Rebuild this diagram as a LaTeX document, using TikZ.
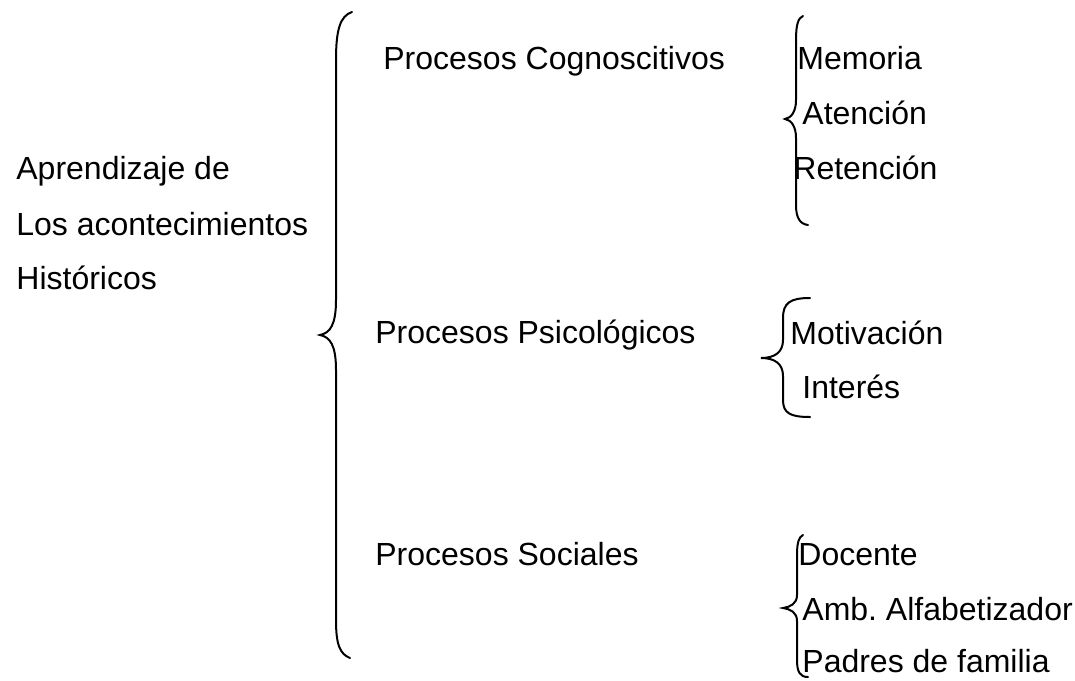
\documentclass[tikz,border=0pt]{standalone}
\usepackage{fontspec}
\setmainfont{Liberation Sans}

\tikzset{
  txt/.style={anchor=base west, inner sep=0pt, font=\fontsize{16}{19}\selectfont},
  llave/.style={draw, line width=1pt, line cap=round},
}

\begin{document}
\begin{tikzpicture}[x=0.5pt, y=-0.5pt]
  \useasboundingbox (0,0) rectangle (1075,680);

  % tema central
  \node [txt](apr) at (16,179) {Aprendizaje de};
  \node [txt](los) at (16,235) {Los acontecimientos};
  \node [txt](his) at (16,289) {Históricos};

  % procesos
  \node [txt](cog) at (383,69) {Procesos Cognoscitivos};
  \node [txt](psi) at (375,343) {Procesos Psicológicos};
  \node [txt](soc) at (375,565) {Procesos Sociales};

  % detalles
  \node [txt](mem) at (797,69) {Memoria};
  \node [txt](ate) at (802,124) {Atención};
  \node [txt](ret) at (793,179) {Retención};

  \node [txt](mot) at (790,344) {Motivación};
  \node [txt](int) at (802,398) {Interés};

  \node [txt](doc) at (798,565) {Docente};
  \node [txt](amb) at (802,620) {Amb.\ Alfabetizador};
  \node [txt](pad) at (802,672) {Padres de familia};

  % llaves
  \path [llave] (352,12) .. controls (340,16) and (336,30) .. (336,60)
    -- (336,300) .. controls (336,325) and (330,333) .. (320,335)
    .. controls (330,337) and (336,345) .. (336,370)
    -- (336,620) .. controls (336,645) and (340,654) .. (350,658);

  \path [llave] (803,16) .. controls (798,18) and (796,25) .. (796,40)
    -- (796,100) .. controls (796,112) and (791,118) .. (785,119)
    .. controls (791,120) and (796,126) .. (796,138)
    -- (796,205) .. controls (796,218) and (800,224) .. (808,225);

  \path [llave] (810,298) .. controls (790,298) and (783,303) .. (783,318)
    -- (783,340) .. controls (783,352) and (775,358) .. (761,358)
    .. controls (775,358) and (783,364) .. (783,376)
    -- (783,400) .. controls (783,413) and (790,417) .. (810,417);

  \path [llave] (803,535) .. controls (799,537) and (797,542) .. (797,555)
    -- (797,595) .. controls (797,604) and (790,607) .. (783,608)
    .. controls (790,609) and (797,612) .. (797,621)
    -- (797,660) .. controls (797,672) and (800,677) .. (808,677);
\end{tikzpicture}
\end{document}
